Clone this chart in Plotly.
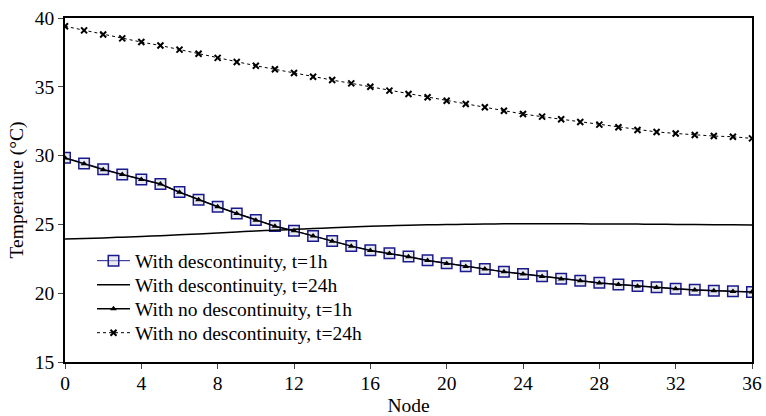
import plotly.graph_objects as go

nodes = list(range(37))

disc_1h = [29.85, 29.43, 29.00, 28.63, 28.27, 27.94, 27.35, 26.80, 26.29, 25.80,
           25.32, 24.88, 24.54, 24.16, 23.79, 23.43, 23.12, 22.90, 22.66, 22.39,
           22.17, 21.95, 21.76, 21.56, 21.40, 21.23, 21.05, 20.91, 20.76, 20.64,
           20.52, 20.43, 20.33, 20.25, 20.18, 20.14, 20.09]

disc_24h = [23.94, 23.98, 24.02, 24.07, 24.12, 24.18, 24.24, 24.31, 24.38, 24.45,
            24.52, 24.58, 24.64, 24.70, 24.76, 24.81, 24.86, 24.90, 24.94, 24.97,
            24.99, 25.01, 25.03, 25.04, 25.04, 25.05, 25.04, 25.04, 25.03, 25.03,
            25.02, 25.01, 25.00, 24.99, 24.98, 24.97, 24.96]

nodisc_1h = [29.83, 29.41, 28.98, 28.62, 28.26, 27.93, 27.34, 26.79, 26.28, 25.79,
             25.31, 24.87, 24.53, 24.15, 23.78, 23.42, 23.11, 22.89, 22.65, 22.38,
             22.16, 21.94, 21.75, 21.55, 21.39, 21.22, 21.04, 20.90, 20.75, 20.63,
             20.51, 20.42, 20.32, 20.24, 20.17, 20.13, 20.08]

nodisc_24h = [39.40, 39.10, 38.80, 38.52, 38.25, 38.00, 37.70, 37.40, 37.10, 36.80,
              36.53, 36.27, 36.00, 35.73, 35.49, 35.25, 35.00, 34.72, 34.48, 34.24,
              33.99, 33.75, 33.51, 33.26, 33.02, 32.83, 32.64, 32.44, 32.25, 32.06,
              31.86, 31.72, 31.61, 31.50, 31.42, 31.37, 31.25]

names = ["With descontinuity, t=1h", "With descontinuity, t=24h",
         "With no descontinuity, t=1h", "With no descontinuity, t=24h"]

x_ticks = [0, 4, 8, 12, 16, 20, 24, 28, 32, 36]
y_ticks = [15, 20, 25, 30, 35, 40]

FONT = "Liberation Serif, Times New Roman, serif"
FS = 19.5

fig = go.Figure()
fig.add_trace(go.Scatter(x=nodes, y=disc_1h, name=names[0], mode="lines+markers",
                         legend="legend",
                         line=dict(color="#1a1a8c", width=1),
                         marker=dict(symbol="square", size=10.5, color="rgba(215,215,228,0.55)",
                                     line=dict(color="#1a1a8c", width=1.5))))
fig.add_trace(go.Scatter(x=nodes, y=disc_24h, name=names[1], mode="lines",
                         legend="legend2",
                         line=dict(color="black", width=1.5, shape="spline")))
fig.add_trace(go.Scatter(x=nodes, y=nodisc_1h, name=names[2], mode="lines+markers",
                         legend="legend3",
                         line=dict(color="black", width=1.5),
                         marker=dict(symbol="triangle-up", size=6, color="black")))
fig.add_trace(go.Scatter(x=nodes, y=nodisc_24h, name=names[3], mode="lines+markers",
                         legend="legend4",
                         line=dict(color="black", width=1, dash="dot"),
                         marker=dict(symbol="x-thin", size=6, color="black",
                                     line=dict(color="black", width=2))))

def leg(ypx):
    return dict(x=(92 - 65) / 687, y=(362 - ypx) / 344, xanchor="left", yanchor="middle",
                bgcolor="rgba(0,0,0,0)", font=dict(family=FONT, size=FS, color="black"),
                itemwidth=33, borderwidth=0)

fig.update_layout(
    width=766, height=416,
    margin=dict(l=65, r=14, t=18, b=54),
    paper_bgcolor="white", plot_bgcolor="white",
    font=dict(family=FONT, size=FS, color="black"),
    showlegend=True,
    legend=leg(261), legend2=leg(285), legend3=leg(309), legend4=leg(333),
    xaxis=dict(range=[0, 36], tickvals=x_ticks, ticks="outside", ticklen=5,
               ticklabelstandoff=-2,
               showline=True, linecolor="black", linewidth=1.5, mirror=True,
               showgrid=False, zeroline=False, automargin=False,
               title=dict(text="Node", font=dict(family=FONT, size=FS), standoff=6)),
    yaxis=dict(range=[15, 40], tickvals=y_ticks, ticks="outside", ticklen=5,
               showline=True, linecolor="black", linewidth=1.5, mirror=True,
               showgrid=False, zeroline=False, automargin=False,
               title=dict(text="Temperature (°C)", font=dict(family=FONT, size=FS), standoff=6)),
)

fig.write_html("out.html")
